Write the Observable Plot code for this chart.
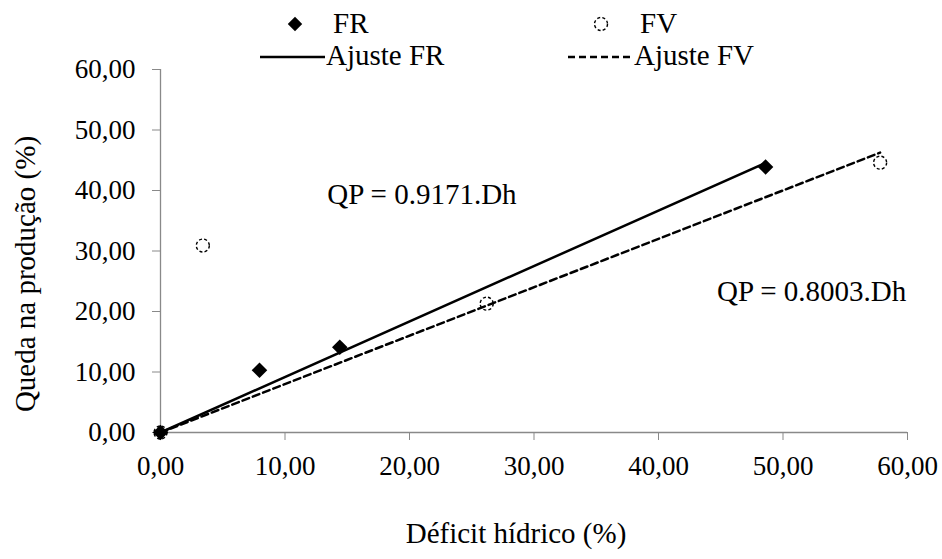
<!DOCTYPE html>
<html><head><meta charset="utf-8">
<script src="https://cdn.jsdelivr.net/npm/d3@7"></script>
<script src="https://cdn.jsdelivr.net/npm/@observablehq/plot@0.6"></script>
<style>
body{margin:0;background:#fff;}
#wrap{position:relative;width:942px;height:559px;font-family:"Times New Roman","Liberation Serif","DejaVu Serif",serif;color:#000;}
#wrap svg, #wrap svg text{font-family:"Times New Roman","Liberation Serif","DejaVu Serif",serif !important;}
#wrap svg.legend{position:absolute;left:0;top:0;}
</style></head><body><div id="wrap"></div>
<script>
// Data
const xFR = [0, 7.95, 14.4, 48.6];
const yFR = [0, 10.3, 14.1, 43.9];
const xFV = [0, 3.4, 26.2, 57.8];
const yFV = [0, 30.9, 21.3, 44.6];
const slopeFR = 0.9171;
const slopeFV = 0.8003;
const eqLabels = ["QP = 0.9171.Dh", "QP = 0.8003.Dh"];
const eqX = [21.0, 52.3];
const eqY = [39.3, 23.3];
const xTicks = [0, 10, 20, 30, 40, 50, 60];
const yTicks = [0, 10, 20, 30, 40, 50, 60];
const legendLabels = ["FR", "FV", "Ajuste FR", "Ajuste FV"];
const xTitle = "Déficit hídrico (%)";
const yTitle = "Queda na produção (%)";

const fr = xFR.map((x, i) => ({x, y: yFR[i]}));
const fv = xFV.map((x, i) => ({x, y: yFV[i]}));
const fitFR = [0, d3.max(xFR)].map(x => ({x, y: slopeFR * x}));
const fitFV = [0, d3.max(xFV)].map(x => ({x, y: slopeFV * x}));
const eqs = eqLabels.map((t, i) => ({t, x: eqX[i], y: eqY[i]}));
const fmt = d => d.toFixed(2).replace(".", ",");
const FONT = '"Times New Roman", "Liberation Serif", "DejaVu Serif", serif';
const AX = "#898989";
const FS = 29;   // titles, legend, equations
const TFS = 27;  // tick labels

const chart = Plot.plot({
  width: 942, height: 559,
  marginLeft: 160, marginRight: 35, marginTop: 69, marginBottom: 127,
  style: {fontFamily: FONT, fontSize: TFS + "px", color: "black", background: "white", overflow: "visible"},
  x: {domain: [0, 60]},
  y: {domain: [0, 60]},
  marks: [
    Plot.ruleX([0], {stroke: AX, strokeWidth: 1.3}),
    Plot.ruleY([0], {stroke: AX, strokeWidth: 1.3}),
    Plot.axisX({ticks: xTicks, tickFormat: fmt, tickSize: 8, tickPadding: 15, stroke: AX, fontSize: TFS, label: null}),
    Plot.axisY({ticks: yTicks, tickFormat: fmt, tickSize: 8, tickPadding: 17, stroke: AX, fontSize: TFS, label: null}),
    Plot.text([xTitle], {text: d => d, frameAnchor: "bottom", dx: -18, dy: 110, fontSize: FS, fill: "black", textAnchor: "middle"}),
    Plot.text([yTitle], {text: d => d, frameAnchor: "left", rotate: -90, dx: -135, dy: 23, fontSize: FS, fill: "black", textAnchor: "middle"}),
    Plot.line(fitFR, {x: "x", y: "y", stroke: "black", strokeWidth: 2.5}),
    Plot.line(fitFV, {x: "x", y: "y", stroke: "black", strokeWidth: 2.5, strokeDasharray: "7,4"}),
    Plot.dot(fr, {x: "x", y: "y", symbol: "diamond2", fill: "black", r: 7}),
    Plot.dot(fv, {x: "x", y: "y", r: 6.5, fill: "none", stroke: "black", strokeWidth: 1.4, strokeDasharray: "3,2.2"}),
    Plot.text(eqs, {x: "x", y: "y", text: "t", fontSize: FS, fill: "black", textAnchor: "middle"})
  ]
});
const wrap = document.getElementById("wrap");
wrap.appendChild(chart);

// Legend overlay
const lg = d3.select(wrap).append("svg").attr("class", "legend")
  .attr("width", 942).attr("height", 80)
  .style("font-family", FONT).style("font-size", FS + "px");
const items = [
  {kind: "diamond", cx: 295, cy: 24, tx: 333, ty: 33},
  {kind: "circle", cx: 601, cy: 24, tx: 640, ty: 33},
  {kind: "solid", x1: 260, x2: 325, cy: 57, tx: 326, ty: 65},
  {kind: "dashed", x1: 568, x2: 633, cy: 57, tx: 634, ty: 65}
];
items.forEach((it, i) => {
  if (it.kind === "diamond") {
    lg.append("path").attr("d", d3.symbol(d3.symbolDiamond2, Math.PI * 6.5 * 6.5)())
      .attr("transform", `translate(${it.cx},${it.cy})`).attr("fill", "black");
  } else if (it.kind === "circle") {
    lg.append("circle").attr("cx", it.cx).attr("cy", it.cy).attr("r", 6.5)
      .attr("fill", "none").attr("stroke", "black").attr("stroke-width", 1.4).attr("stroke-dasharray", "3,2.2");
  } else {
    lg.append("line").attr("x1", it.x1).attr("x2", it.x2).attr("y1", it.cy).attr("y2", it.cy)
      .attr("stroke", "black").attr("stroke-width", 2.5)
      .attr("stroke-dasharray", it.kind === "dashed" ? "7,4" : null);
  }
  lg.append("text").attr("x", it.tx).attr("y", it.ty).text(legendLabels[i]);
});
</script></body></html>
